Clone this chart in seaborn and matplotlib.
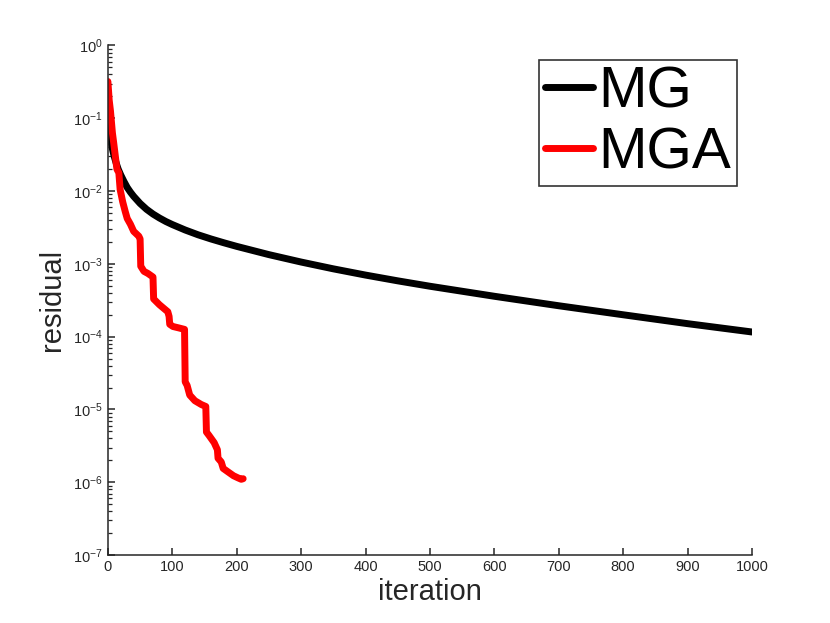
import matplotlib
matplotlib.use('Agg')
import matplotlib.pyplot as plt
import matplotlib.ticker as mticker
import seaborn as sns
import pandas as pd

# MG residual history
mg_iter = [1, 2, 3, 4, 6, 8, 10, 13, 16, 20, 25, 30, 35, 40, 50, 60, 70, 80,
           90, 100, 120, 140, 160, 180, 200, 250, 300, 350, 400, 450, 500,
           600, 700, 800, 900, 1000]
mg_res = [1.0e-1, 7.59e-2, 6.31e-2, 5.37e-2, 4.17e-2, 3.47e-2, 2.95e-2,
          2.40e-2, 2.00e-2, 1.66e-2, 1.35e-2, 1.12e-2, 9.66e-3, 8.47e-3,
          6.76e-3, 5.62e-3, 4.84e-3, 4.27e-3, 3.82e-3, 3.47e-3, 2.92e-3,
          2.51e-3, 2.20e-3, 1.95e-3, 1.74e-3, 1.34e-3, 1.06e-3, 8.55e-4,
          7.02e-4, 5.85e-4, 4.93e-4, 3.59e-4, 2.66e-4, 2.00e-4, 1.51e-4,
          1.16e-4]

# MGA residual history
mga_iter = [0, 2, 4, 7, 9, 12, 14, 17, 19, 23, 27, 30, 35, 40, 48, 50, 51, 56,
            62, 70, 71, 80, 93, 95, 96, 101, 110, 119, 120, 123, 127, 135, 145,
            152, 153, 157, 165, 167, 170, 171, 176, 179, 187, 195, 202, 207, 210]
mga_res = [3.2e-1, 1.78e-1, 1.26e-1, 6.3e-2, 4.6e-2, 2.8e-2, 2.0e-2, 1.78e-2,
           1.05e-2, 7.1e-3, 5.2e-3, 4.2e-3, 3.5e-3, 2.8e-3, 2.4e-3, 2.2e-3,
           9.3e-4, 7.9e-4, 7.4e-4, 6.6e-4, 3.3e-4, 2.75e-4, 2.2e-4, 1.9e-4,
           1.48e-4, 1.38e-4, 1.32e-4, 1.26e-4, 2.4e-5, 2.14e-5, 1.58e-5,
           1.32e-5, 1.17e-5, 1.10e-5, 4.9e-6, 4.4e-6, 3.5e-6, 3.2e-6, 2.8e-6,
           2.14e-6, 1.9e-6, 1.55e-6, 1.38e-6, 1.23e-6, 1.15e-6, 1.10e-6, 1.12e-6]

x_ticks = [0, 100, 200, 300, 400, 500, 600, 700, 800, 900, 1000]

sns.set_style('ticks')
plt.rcParams['font.family'] = ['Liberation Sans', 'DejaVu Sans']
plt.rcParams['mathtext.default'] = 'regular'

fig = plt.figure(figsize=(8.3, 6.23), dpi=100)
ax = fig.add_axes([0.130, 0.109, 0.776, 0.818])

df_mg = pd.DataFrame({'iteration': mg_iter, 'residual': mg_res})
df_mga = pd.DataFrame({'iteration': mga_iter, 'residual': mga_res})

sns.lineplot(data=df_mg, x='iteration', y='residual', ax=ax, color='black',
             linewidth=5.0, estimator=None, sort=False, label='MG')
sns.lineplot(data=df_mga, x='iteration', y='residual', ax=ax, color='#ff0000',
             linewidth=5.0, estimator=None, sort=False, label='MGA',
             solid_capstyle='round')

ax.set_yscale('log')
ax.set_xlim(0, 1000)
ax.set_ylim(1e-7, 1e0)
ax.set_xticks(x_ticks)
ax.yaxis.set_major_locator(mticker.LogLocator(base=10, numticks=10))
ax.yaxis.set_minor_locator(mticker.LogLocator(base=10, subs=range(2, 10), numticks=10))
ax.yaxis.set_minor_formatter(mticker.NullFormatter())

dark = '#262626'
ax.tick_params(which='major', direction='in', length=5, width=1.1,
               colors=dark, labelsize=10.5)
ax.tick_params(which='minor', direction='in', length=3, width=0.9, colors=dark)
for s in ['left', 'bottom']:
    ax.spines[s].set_color(dark)
    ax.spines[s].set_linewidth(1.1)
sns.despine(ax=ax)

ax.set_xlabel('iteration', fontsize=21, color=dark, labelpad=3)
ax.set_ylabel('residual', fontsize=21, color=dark, labelpad=5)

leg = ax.legend(loc='upper right', bbox_to_anchor=(0.977, 0.972),
                fontsize=42, frameon=True, fancybox=False, borderpad=0.1,
                labelspacing=0.12, handlelength=0.82, handletextpad=0.1,
                borderaxespad=0, labelcolor='black')
leg.get_frame().set_edgecolor('#333333')
leg.get_frame().set_linewidth(1.2)
leg.get_frame().set_alpha(1)

fig.savefig('out.png', dpi=100, facecolor='white')
